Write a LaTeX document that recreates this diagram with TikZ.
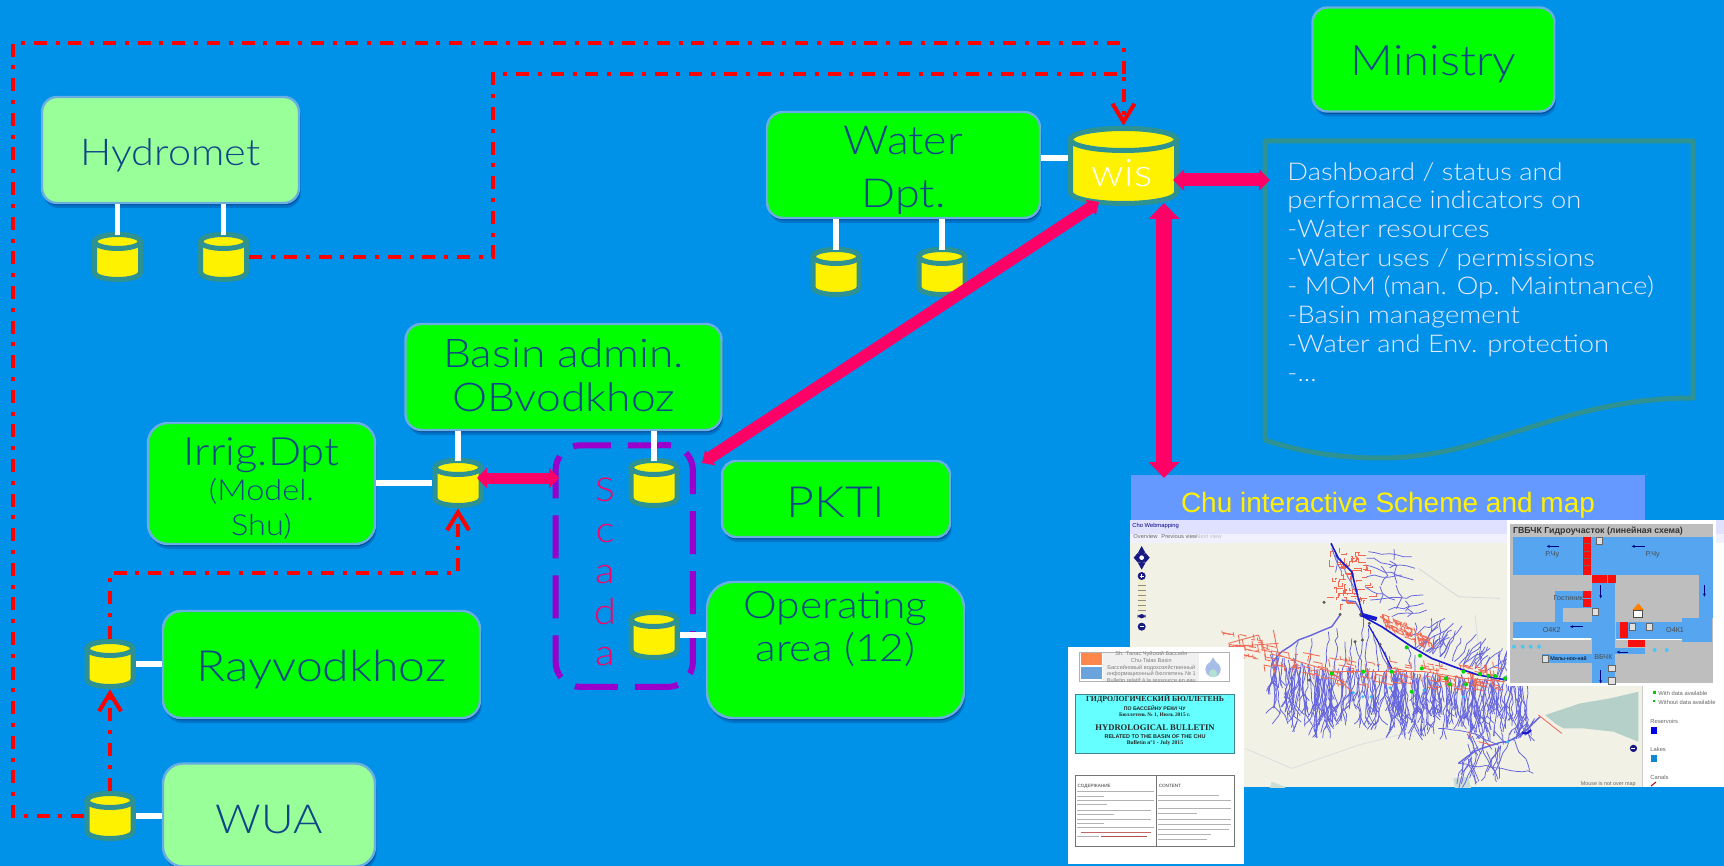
\documentclass[tikz,border=0pt]{standalone}
\usepackage{fontspec}
\usetikzlibrary{arrows.meta,shadows,decorations.pathmorphing,calc}
\setmainfont{Lato Light}[FakeStretch=1.12]
\newfontfamily\arialf{Liberation Sans}
\newfontfamily\serifb{Liberation Serif}
\definecolor{bg}{RGB}{0,145,232}
\definecolor{gbox}{RGB}{0,255,0}
\definecolor{lgbox}{RGB}{153,255,153}
\definecolor{boxline}{RGB}{105,175,225}
\definecolor{labelblue}{RGB}{14,70,135}
\definecolor{teal2}{RGB}{46,146,146}
\definecolor{pink2}{RGB}{255,0,102}
\definecolor{purp}{RGB}{153,0,204}
\definecolor{panel}{RGB}{102,153,255}
\definecolor{river}{RGB}{100,100,220}
\definecolor{net}{RGB}{240,105,85}
\definecolor{deep}{RGB}{25,25,205}
\definecolor{ctl}{RGB}{25,25,130}
\definecolor{isky}{RGB}{85,165,240}
\definecolor{igray}{RGB}{190,190,190}
\definecolor{ired}{RGB}{250,15,15}
\definecolor{mapbg}{RGB}{242,241,230}
\definecolor{lakec}{RGB}{180,208,200}
\definecolor{bcyan}{RGB}{102,255,255}
\definecolor{bframe}{RGB}{70,130,150}
\tikzset{
 boxbase/.style={draw=boxline,line width=1.2pt,rounded corners=#1,align=center,text=labelblue,inner sep=0pt,
   drop shadow={shadow xshift=0.5pt,shadow yshift=-1.2pt,opacity=.3,fill=black!70!blue},
   drop shadow={shadow xshift=0.8pt,shadow yshift=-2.5pt,opacity=.2,fill=black!70!blue}},
 greenbox/.style={boxbase=#1,fill=gbox},
 lightbox/.style={boxbase=#1,fill=lgbox},
 wire/.style={white,line width=2.6pt},
 redline/.style={red,line width=2pt,dash pattern=on 6.5pt off 4.4pt on 2pt off 4.4pt},
 redtip/.style={redline,-{Straight Barb[length=9pt,width=11pt,line width=2pt]}},
 rv/.style={river,line width=.38pt,decorate,decoration={random steps,segment length=3.5pt,amplitude=.9pt}},
 rvt/.style={river,line width=.7pt,decorate,decoration={random steps,segment length=5pt,amplitude=.6pt}},
 nt/.style={net,line width=.42pt},
 gdot/.style={fill=green!85!black,draw=none},
 cdot/.style={fill=cyan!80!white,draw=none},
 kdot/.style={fill=black!65,draw=none},
 tinytxt/.style={font=\arialf\fontsize{2.9}{3.8}\selectfont,text=black!60,inner sep=0pt},
 isqr/.style={draw=black!60,fill=black!12,line width=.3pt,minimum width=3.2pt,minimum height=3.2pt,inner sep=0pt},
 ilab/.style={inner sep=0pt,font=\arialf\fontsize{3.6}{4}\selectfont,text=black!70},
 iarrow/.style={blue!50!black,-{Stealth[length=1.6pt,width=1.4pt]},line width=.35pt},
}
\newcommand\rlab[2]{\raisebox{#1}[0pt][0pt]{\begin{tabular}{@{}c@{}}#2\end{tabular}}}
% name, x, y (picture units), half width, half height, cap radius (pt)
\newcommand\dbstore[6]{%
 \begin{scope}[shift={(#2,#3)},x=1pt,y=1pt]
 \pgfmathsetmacro\ct{#5-#6}\pgfmathsetmacro\cb{-#5+#6}
 \filldraw[fill=yellow,draw=teal2,line width=2.5pt,line join=round] (-#4,\ct) -- (-#4,\cb) arc[start angle=180,end angle=360,x radius=#4,y radius=#6] -- (#4,\ct) arc[start angle=0,end angle=180,x radius=#4,y radius=#6] -- cycle;
 \filldraw[fill=yellow,draw=teal2,line width=2.5pt] (0,\ct) ellipse[x radius=#4,y radius=#6];
 \end{scope}
 \pgfmathsetmacro\dw{2*#4+2.5}\pgfmathsetmacro\dh{2*#5+2.5}
 \node[minimum width=\dw pt,minimum height=\dh pt,inner sep=0pt] (#1) at (#2,#3) {};}
\begin{document}
\begin{tikzpicture}[x=0.5pt,y=-0.5pt]
\useasboundingbox (0,0) rectangle (1724,866);
\fill[bg] (0,0) rectangle (1724,866);
% ---------- panel with map ----------
\node[fill=panel,minimum width=257pt,minimum height=22.5pt,inner sep=0pt] (title) at (1388,497.5) {};
\node[anchor=base,font=\arialf\fontsize{14}{16}\selectfont,text=yellow,inner sep=0pt] (titletext) at (1388,512) {Chu interactive Scheme and map};
\fill[white] (1130,520) rectangle (1724,787);
\begin{scope}
\clip (1130,520) rectangle (1724,787);
\fill[mapbg] (1130,520) rectangle (1642,787);
\fill[blue!12!white] (1130,520) rectangle (1724,534);
\fill[blue!6!white] (1130,534) rectangle (1724,543);
\fill[white] (1642,543) rectangle (1724,787);
\draw[black!20,line width=.5pt] (1642,543) -- (1642,787);
\node[tinytxt,anchor=west,text=blue!50!black] at (1132,526) {Cho Webmapping};
\node[tinytxt,anchor=west] at (1133,536) {Overview};
\node[tinytxt,anchor=west] at (1161,536) {Previous view};
\node[tinytxt,anchor=west,text=black!25] at (1196,536) {Next view};
% map, in 3x coordinates
\begin{scope}[shift={(1125,515)},x=0.1667pt,y=-0.1667pt]
\pgfmathsetseed{11}
\draw[black!14,line width=.5pt] (880,160) -- (1000,245) -- (1125,250);
\draw[black!12,line width=.5pt] (360,700) -- (500,760) -- (700,690) -- (900,640);
\draw[black!12,line width=.5pt] (1050,300) -- (1060,390);
\fill[lakec!70!white] (440,800) -- (480,815) -- (480,830) -- (430,830) -- cycle;
\fill[lakec!70!white] (985,790) -- (1030,785) -- (1040,830) -- (990,830) -- cycle;
\fill[lakec] (1260,600) -- (1365,565) -- (1455,550) -- (1540,530) -- (1540,680) -- (1465,650) -- (1375,640) -- (1315,640) -- (1290,625) -- cycle;
% southern tributaries, dense fan
\foreach \i in {1,...,190}{
  \pgfmathsetmacro\xa{430+rnd*780}
  \pgfmathsetmacro\ya{\xa<620 ? 400+(\xa-430)*0.35+rnd*40 : 450+(\xa-620)*0.07+rnd*25}
  \pgfmathsetmacro\xb{\xa+rnd*50-25}
  \pgfmathsetmacro\yb{\ya+55+rnd*100}
  \pgfmathsetmacro\xc{\xb+rnd*50-25}
  \pgfmathsetmacro\yc{\yb+15+rnd*30}
  \pgfmathsetmacro\xd{\xb+rnd*50-25}
  \draw[rv] (\xa,\ya) -- (\xb,\yb) -- (\xc,\yc);
  \draw[rv] (\xb,\yb) -- (\xd,\yc);
}
% upper part of the fan
\foreach \a/\b/\c/\d in {520/380/500/530, 560/370/555/470, 610/350/600/470, 635/340/630/470, 660/380/650/540, 680/370/670/510, 690/380/720/500, 715/310/700/470, 730/340/720/470, 745/350/760/470, 755/370/790/470, 770/400/800/470, 780/410/800/470, 850/400/860/460, 870/420/870/470}
{\draw[rv] (\a,\b) -- (\c,\d);}
% northern tributaries
\foreach \a/\b/\c/\d in {
 730/110/860/125, 725/130/870/160, 720/150/865/195, 725/185/830/180, 720/215/810/255, 735/255/895/240, 790/285/895/265, 800/305/905/285, 860/360/960/310,
 890/395/985/325, 905/410/980/345, 1015/445/1095/400, 1040/455/1080/395, 1080/470/1175/420, 620/100/650/170, 645/130/700/240
}{\draw[rv] (\a,\b) -- (\c,\d);
  \pgfmathsetmacro\rx{rnd*40-20}\pgfmathsetmacro\ry{rnd*30+10}
  \coordinate (m) at ($(\a,\b)!0.6!(\c,\d)$);
  \draw[rv] (m) -- ++(\rx,-\ry);
  \draw[rv] (m) -- ++(\rx,\ry);}
\foreach \i in {1,...,30}{
  \pgfmathsetmacro\xa{860+rnd*300}
  \pgfmathsetmacro\ya{395+(\xa-860)*.35}
  \pgfmathsetmacro\xb{\xa+rnd*70}
  \pgfmathsetmacro\yb{\ya-35-rnd*60}
  \draw[rv] (\xa,\ya) -- (\xb,\yb);
}
% delta
\foreach \i in {1,...,34}{
  \pgfmathsetmacro\xa{1000+rnd*190}
  \pgfmathsetmacro\ya{745-(\xa-1000)*.42}
  \pgfmathsetmacro\xb{\xa+rnd*110-55}
  \pgfmathsetmacro\yb{\ya+(rnd>.42 ? 50+rnd*70 : -35-rnd*35)}
  \draw[rv] (\xa,\ya) -- (\xb,\yb);
}
\draw[rv] (1000,745) -- (1130,760) -- (1225,775);
\draw[rv] (940,640) -- (1060,660) -- (1120,690);
% trunks
\draw[rvt] (715,305) -- (690,260) -- (650,255);
\draw[rvt] (645,300) -- (620,335) -- (560,360) -- (520,375) -- (470,410) -- (440,450);
\draw[rvt] (1000,745) -- (1070,700) -- (1148,680) -- (1205,645) -- (1245,605);
% irrigation network
\foreach \i in {1,...,170}{
  \pgfmathsetmacro\xa{310+rnd*830}
  \pgfmathsetmacro\ya{(\xa<620 ? 385+(\xa-310)*0.274 : 470+(\xa-620)*0.048)+rnd*76-38}
  \pgfmathsetmacro\ll{rnd*70-35}
  \pgfmathsetmacro\mm{rnd*44-22}
  \draw[nt] (\xa,\ya) -- ++(\ll,\ll*.2) -- ++(\mm*.15,\mm);
}
\foreach \i in {1,...,70}{
  \pgfmathsetmacro\xa{625+rnd*110}
  \pgfmathsetmacro\ya{105+rnd*165}
  \pgfmathsetmacro\ll{rnd*50-25}
  \pgfmathsetmacro\mm{rnd*36-18}
  \draw[nt] (\xa,\ya) -- ++(\ll,0) -- ++(0,\mm);
}
\foreach \i in {1,...,70}{
  \pgfmathsetmacro\xa{770+rnd*150}
  \pgfmathsetmacro\ya{310+(\xa-770)*.55+rnd*40-20}
  \pgfmathsetmacro\ll{rnd*44-22}
  \pgfmathsetmacro\mm{rnd*36-18}
  \draw[nt] (\xa,\ya) -- ++(\ll,\ll*.4) -- ++(\mm*.3,\mm);
}
\foreach \a/\b/\c/\d in {310/385/400/360, 310/395/460/385, 340/360/350/420, 400/360/420/410, 445/345/460/420, 460/420/620/470, 620/470/900/470, 900/470/1020/490, 1020/490/1140/500, 620/470/680/530, 1030/650/1040/670, 1060/680/1100/690, 1240/600/1310/655}
{\draw[nt] (\a,\b) -- (\c,\d);}
% main channel
\draw[deep,line width=.8pt] (618,85) -- (640,130) -- (680,170) -- (697,240);
\draw[deep,line width=.7pt] (697,240) -- (715,305);
\draw[deep,line width=.8pt] (715,305) -- (770,335) -- (860,395) -- (920,430) -- (1000,460) -- (1060,480) -- (1145,495);
\draw[deep,line width=2pt] (705,298) -- (755,312);
\draw[deep,line width=.6pt] (730,330) -- (770,400) -- (800,460);
\draw[deep,line width=1.1pt] (1190,652) .. controls (1205,660) and (1212,650) .. (1218,645);
\foreach \p in {(845,397),(885,422),(800,470),(890,460),(963,490),(975,508),(1023,508),(1015,470),(1065,477),(1090,482),(1110,483),(1140,490),(860,530),(620,475),(715,470)}{\fill[gdot] \p circle (6);}
\foreach \p in {(685,533),(713,545),(738,545),(795,518),(897,525),(1015,545),(1148,680)}{\fill[cdot] \p circle (5);}
\foreach \p in {(597,262),(645,298),(690,380),(712,375),(765,388),(553,495),(733,325),(707,298)}{\fill[kdot] \p circle (5);}
% nav control
\fill[ctl] (50,128) circle (16);
\fill[ctl] (26,128) -- (38,114) -- (50,128) -- (38,142) -- cycle;
\fill[ctl] (74,128) -- (62,114) -- (50,128) -- (62,142) -- cycle;
\fill[ctl] (50,93) -- (62,115) -- (38,115) -- cycle;
\fill[ctl] (50,164) -- (62,142) -- (38,142) -- cycle;
\fill[white] (50,128) circle (7);
\fill[ctl] (50,183) circle (12);
\fill[black!30!yellow!20!white] (38,195) rectangle (62,295);
\foreach \q in {210,225,240,255,270,285}{\draw[black!45,line width=.4pt] (38,\q) -- (62,\q);}
\fill[ctl,rounded corners=2pt] (38,297) rectangle (62,310);
\fill[ctl] (50,335) circle (12);
\fill[white] (44,182) rectangle (56,184);\fill[white] (49,177) rectangle (51,189);
\fill[white] (44,334) rectangle (56,336);
\fill[ctl] (1525,700) circle (11);
\fill[white] (1519,699) rectangle (1531,701);
\end{scope}
% legend
\fill[green!80!black] (1653,691) rectangle (1656,694);
\fill[green!80!black] (1653,700) rectangle (1655,702);
\node[tinytxt,anchor=west] at (1658,693) {With data available};
\node[tinytxt,anchor=west] at (1658,702) {Without data available};
\node[tinytxt,anchor=west] at (1650,721) {Reservoirs};
\fill[blue!90!black] (1651,727) rectangle (1657,734);
\node[tinytxt,anchor=west] at (1650,749) {Lakes};
\fill[cyan!70!blue] (1651,755) rectangle (1657,762);
\node[tinytxt,anchor=west] at (1650,777) {Canals};
\draw[red!70!black,line width=.5pt] (1651,786) -- (1656,782);
\node[tinytxt,anchor=east,font=\arialf\fontsize{2.7}{3.3}\selectfont] at (1636,784) {Mouse is not over map};
\end{scope}
% ---------- inset scheme ----------
\fill[white] (1507,520) rectangle (1716,686);
\begin{scope}[shift={(1500,515)},x=0.1667pt,y=-0.1667pt]
\fill[igray] (30,28) rectangle (640,505);
\foreach \r in {{(38,65) rectangle (640,180)},{(275,180) rectangle (345,505)},{(597,180) rectangle (640,310)},{(545,310) rectangle (635,380)},{(348,322) rectangle (545,372)},{(38,322) rectangle (275,370)},{(165,228) rectangle (275,280)},{(165,228) rectangle (190,322)},{(345,400) rectangle (435,418)},{(125,417) rectangle (275,443)}}{\fill[isky] \r;}
\draw[white,line width=.7pt] (38,372) -- (272,372) (348,374) -- (545,374);
\foreach \r in {{(250,65) rectangle (272,180)},{(275,180) rectangle (320,205)},{(323,180) rectangle (348,205)},{(250,228) rectangle (272,250)},{(250,252) rectangle (272,275)},{(360,322) rectangle (385,368)},{(385,375) rectangle (435,395)}}{\fill[ired] \r;}
\foreach \q in {85,108,130,152}{\draw[black!60,line width=.5pt] (253,\q) -- (269,\q);}
\foreach \p in {(298,77),(285,290),(397,335),(447,335),(335,460),(335,497),(135,431)}{\node[isqr] at \p {};}
\fill[orange] (397,285) -- (415,265) -- (432,285) -- cycle;
\fill[white,draw=black!70,line width=.3pt] (400,287) rectangle (428,307);
\node[anchor=west,inner sep=0pt,font=\arialf\bfseries\fontsize{4.4}{5}\selectfont,text=black!80] at (38,47) {ГВБЧК Гидроучасток (линейная схема)};
\node[ilab] at (157,120) {Р.Чу};
\node[ilab] at (458,120) {Р.Чу};
\node[ilab] at (205,248) {Гостиник};
\node[ilab] at (155,344) {О4К2};
\node[ilab] at (525,346) {О4К1};
\node[ilab] at (310,427) {ВБЧК};
\node[ilab,anchor=west,text=black,font=\arialf\fontsize{2.7}{3}\selectfont] at (150,431) {Малы-ноо-най};
\draw[iarrow] (178,94) -- (140,94);
\draw[iarrow] (435,94) -- (395,94);
\draw[iarrow] (302,210) -- (302,250);
\draw[iarrow] (613,210) -- (613,245);
\draw[iarrow] (302,465) -- (302,505);
\draw[iarrow] (248,335) -- (210,335);
\draw[iarrow] (385,411) -- (350,411);
\foreach \p in {(42,395),(68,395),(92,395),(117,395),(464,405),(500,405)}{\fill[cyan!70!white] \p circle (6);}
\end{scope}
% ---------- bulletin ----------
\fill[white] (1068,647) rectangle (1244,864);
\begin{scope}[shift={(1064,640)},x=0.1667pt,y=-0.1667pt]
\fill[black!6] (118,38) rectangle (405,122);
\draw[black!30,line width=.4pt] (45,37) rectangle (495,123);
\fill[orange!65!red!70!white] (50,38) rectangle (115,75);
\fill[cyan!60!blue!60!white] (50,80) rectangle (115,118);
\fill[cyan!50!blue!35!white] (447,52) -- (470,88) -- (425,88) -- cycle;
\fill[cyan!50!blue!35!white] (447,88) circle (23);
\fill[green!60!blue!30!white] (447,100) circle (12);
\node[align=center,inner sep=0pt,font=\arialf\fontsize{2.8}{3.4}\selectfont,text=black!50] (bhead) at (262,81) {Sh. Талас Чуйский Бассейн\\Chu-Talas Basin\\Бассейновый водохозяйственный\\информационный бюллетень № 1\\Bulletin relatif à la ressource en eau};
\node[draw=bframe,line width=.5pt,fill=bcyan,minimum width=79.5pt,minimum height=29.5pt,inner sep=0pt] (bbox) at (272,251) {};
\node[inner sep=0pt,font=\serifb\bfseries\fontsize{3.9}{5}\selectfont,text=black!85] at (273,178) {ГИДРОЛОГИЧЕСКИЙ БЮЛЛЕТЕНЬ};
\node[inner sep=0pt,font=\arialf\bfseries\fontsize{2.6}{3}\selectfont,text=black!85] at (272,204) {ПО БАССЕЙНУ РЕКИ ЧУ};
\node[inner sep=0pt,font=\serifb\bfseries\fontsize{2.7}{3}\selectfont,text=black!85] at (272,225) {Бюллетень № 1, Июль 2015 г.};
\node[inner sep=0pt,font=\serifb\bfseries\fontsize{4.3}{5}\selectfont,text=black!85] at (273,263) {HYDROLOGICAL BULLETIN};
\node[inner sep=0pt,font=\arialf\bfseries\fontsize{2.75}{3}\selectfont,text=black!85] at (273,290) {RELATED TO THE BASIN OF THE CHU};
\node[inner sep=0pt,font=\serifb\bfseries\fontsize{2.8}{3}\selectfont,text=black!85] at (273,310) {Bulletin n°1 - July 2015};
\draw[black!55,line width=.4pt] (35,405) rectangle (512,618);
\draw[black!55,line width=.4pt] (276,405) -- (276,618);
\node[anchor=west,inner sep=0pt,font=\arialf\fontsize{2.3}{3}\selectfont,text=black!80] at (40,438) {СОДЕРЖАНИЕ};
\node[anchor=west,inner sep=0pt,font=\arialf\fontsize{2.3}{3}\selectfont,text=black!80] at (283,438) {CONTENT};
\foreach \q/\u in {455/270,470/120,482/270,494/130,510/260,524/150,538/260,550/120,562/270}{\draw[black!30,line width=.4pt] (40,\q) -- (\u,\q);}
\foreach \q/\u in {465/465,482/500,505/500,520/400,538/500,552/500,568/495,584/440,598/430}{\draw[black!30,line width=.4pt] (283,\q) -- (\u,\q);}
\draw[red!60!black!70,line width=.4pt] (110,590) -- (250,590);
\draw[black!30,line width=.4pt] (40,590) -- (105,590);
\draw[red!60!black!60,line width=.4pt] (50,577) -- (260,577);
\end{scope}
% ---------- boxes ----------
\node[lightbox=7.5pt,minimum width=128.5pt,minimum height=53pt,font=\fontsize{18.5}{22}\selectfont] (hydromet) at (170.5,150) {\rlab{-7.7pt}{Hydromet}};
\node[greenbox=7.5pt,minimum width=121pt,minimum height=52pt,font=\fontsize{21}{25}\selectfont] (ministry) at (1433.5,59.5) {\rlab{-8.4pt}{Ministry}};
\node[greenbox=8pt,minimum width=136.5pt,minimum height=53pt,font=\fontsize{20}{26.5}\selectfont] (water) at (903.5,165) {\rlab{-8pt}{Water\\Dpt.}};
\node[greenbox=8pt,minimum width=158pt,minimum height=53pt,font=\fontsize{19.8}{22}\selectfont] (basin) at (563.5,377) {\rlab{-7.1pt}{Basin admin.\\OBvodkhoz}};
\node[greenbox=10pt,minimum width=113.5pt,minimum height=60.5pt,font=\fontsize{19.5}{17.5}\selectfont] (irrig) at (261.5,483.5) {\rlab{-9.4pt}{Irrig.Dpt\\\fontsize{14.5}{17.5}\selectfont (Model.\\\fontsize{14.5}{17.5}\selectfont Shu)}};
\node[greenbox=7pt,minimum width=114pt,minimum height=38pt,font=\fontsize{21.5}{24}\selectfont] (pkti) at (836,499) {\rlab{-9.6pt}{PKTI}};
\node[greenbox=13pt,minimum width=128.5pt,minimum height=68pt,font=\fontsize{19}{21.5}\selectfont] (operating) at (835.5,650) {\rlab{5.2pt}{Operating\\area (12)}};
\node[greenbox=9pt,minimum width=158.5pt,minimum height=53.5pt,font=\fontsize{21.5}{24}\selectfont] (rayv) at (321.5,664.5) {\rlab{-8.85pt}{Rayvodkhoz}};
\node[lightbox=10pt,minimum width=106pt,minimum height=51.5pt,font=\fontsize{20}{24}\selectfont] (wua) at (269,815) {\rlab{-9.6pt}{WUA}};
% ---------- scada box ----------
\node[minimum width=68.25pt,minimum height=120.5pt,inner sep=0pt] (scada) at (624.25,566) {};
\coordinate (scadastart) at (603,445.5);
\draw[purp,line width=3pt,rounded corners=12.5pt,dash pattern=on 21.5pt off 8.5pt] (scadastart) -- (scada.north east) -- (scada.south east) -- (scada.south west) -- (scada.north west) -- cycle;
\node[align=center,inner sep=0pt,text=pink2,font=\fontsize{18}{20.5}\selectfont] (scadatext) at (605,572) {\fontsize{16.5}{20.5}\selectfont S\\c\\a\\d\\a};
% ---------- cylinders ----------
\dbstore{h1}{117.5}{257}{11.5}{11.25}{3.5}
\dbstore{h2}{223.5}{257}{11.5}{11.25}{3.5}
\dbstore{w1}{836}{272}{11.5}{11.25}{3.5}
\dbstore{w2}{942}{272}{11.5}{11.25}{3.5}
\dbstore{s0}{458}{483}{11.5}{11.25}{3.5}
\dbstore{s1}{654}{483}{11.5}{11.25}{3.5}
\dbstore{s2}{654}{635}{11.5}{11.25}{3.5}
\dbstore{r1}{110}{664}{11.5}{11.25}{3.5}
\dbstore{u1}{110}{816}{11.5}{11.25}{3.5}
\dbstore{wis}{1123.5}{166}{26.5}{18.75}{5.5}
\node[text=white,inner sep=0pt,anchor=base,font=\fontsize{19}{22}\selectfont] (wistext) at (1122,187) {wis};
% ---------- document ----------
\draw[teal2,line width=2.5pt,line join=round] (1265,141) -- (1693,141) -- (1693,398) .. controls (1560,398) and (1490,458) .. (1380,458) .. controls (1340,458) and (1300,452) .. (1265,440) -- cycle;
\node[anchor=north west,align=left,inner sep=0pt,text=blue!8!white,font=\fontsize{12.2}{14.35}\selectfont] (dash) at (1287,162) {Dashboard / status and\\performace indicators on\\-Water resources\\-Water uses / permissions\\- MOM (man. Op. Maintnance)\\-Basin management\\-Water and Env. protection\\-...};
\coordinate (docleft) at (1270,180);
\coordinate (wisright) at (1173,180);
\coordinate (wisdown) at (1164,203);
\coordinate (titleup) at (1164,478);
\coordinate (wisdiag) at (1099,202);
\coordinate (scadadiag) at (702,463);
\coordinate (scadaleft) at (559,478);
\coordinate (s0right) at (477,478);
% ---------- white connectors ----------
\draw[wire] (hydromet.south -| h1.north) -- ([yshift=-1.5pt]h1.north);
\draw[wire] (hydromet.south -| h2.north) -- ([yshift=-1.5pt]h2.north);
\draw[wire] (water.south -| w1.north) -- ([yshift=-1.5pt]w1.north);
\draw[wire] (water.south -| w2.north) -- ([yshift=-1.5pt]w2.north);
\draw[wire] (water.east |- 0,158) -- (wis.west |- 0,158);
\draw[wire] (basin.south -| s0.north) -- ([yshift=-1.5pt]s0.north);
\draw[wire] (basin.south -| s1.north) -- ([yshift=-1.5pt]s1.north);
\draw[wire] (irrig.east |- s0.west) -- (s0.west);
\draw[wire] (operating.west |- s2.east) -- (s2.east);
\draw[wire] (rayv.west |- r1.east) -- (r1.east);
\draw[wire] (wua.west |- u1.east) -- (u1.east);
% ---------- red lines ----------
\coordinate (a1) at (13,816);\coordinate (a2) at (13,43);\coordinate (a3) at (1123.5,43);
\coordinate (b1) at (493,257);\coordinate (b2) at (493,74);\coordinate (b3) at (1123.5,74);
\draw[redline] (u1.west) -- (a1) -- (a2) -- (a3) -- (b3);
\draw[redtip] (h2.east) -- (b1) -- (b2) -- (b3) -- (wis.north);
\draw[redtip] (u1.north) -- (r1.south);
\coordinate (c1) at (110,573);\coordinate (c2) at (458,573);
\draw[redtip] (r1.north) -- (c1) -- (c2) -- (s0.south);
% ---------- pink arrows ----------
\draw[pink2,line width=6.5pt,{Triangle[width=10.5pt,length=5.5pt]}-{Triangle[width=10.5pt,length=5.5pt]}] (wisright) -- (docleft);
\draw[pink2,line width=8pt,{Triangle[width=15pt,length=8pt]}-{Triangle[width=15pt,length=8pt]}] (wisdown) -- (titleup);
\draw[pink2,line width=5.5pt,{Triangle[width=10pt,length=5pt]}-{Triangle[width=10pt,length=5pt]}] (s0right) -- (scadaleft);
\draw[pink2,line width=6pt,{Triangle[width=9pt,length=5pt]}-{Triangle[width=9pt,length=5pt]}] (wisdiag) -- (scadadiag);
\end{tikzpicture}
\end{document}
